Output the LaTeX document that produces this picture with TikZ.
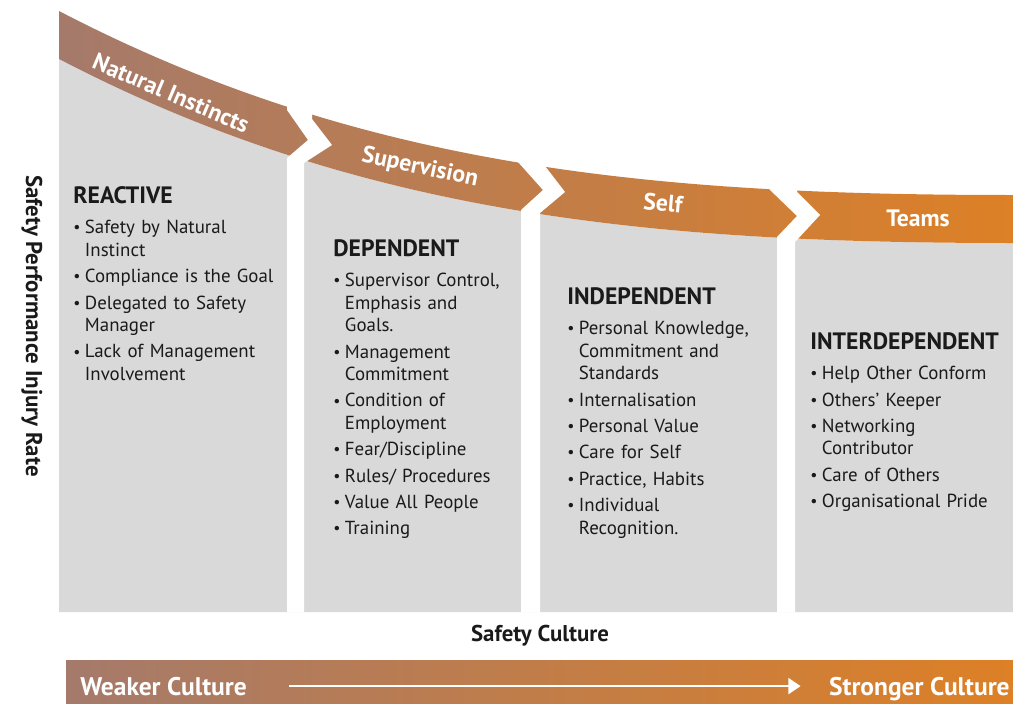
\documentclass[tikz,border=0pt]{standalone}
\usepackage{fontspec}
\setmainfont{PT Sans}
\usetikzlibrary{arrows.meta}

\definecolor{panelgray}{RGB}{217,217,217}
\definecolor{weakbrown}{RGB}{165,122,107}
\definecolor{strongorange}{RGB}{221,128,38}
\definecolor{textdark}{RGB}{26,26,26}

% heading and bullet lines inside the stage panels
\newcommand{\stagehead}[1]{{\bfseries\fontsize{13.5}{15}\selectfont #1}\par\vspace{4.6pt}}
\newcommand{\stageitem}[1]{\par\hangindent=6.6pt\hangafter=1\noindent
	\makebox[6.6pt][l]{\raisebox{0.5pt}{\fontsize{9}{9}\selectfont\textbullet}}#1\par\vspace{2.2pt}}

\tikzset{
	stagetext/.style={anchor=north west, inner sep=0pt, text width=4.6cm, align=left,
		text=textdark, font=\fontsize{10.75}{12.8}\selectfont},
	bandlabel/.style={text=white, font=\bfseries\fontsize{13.5}{15}\selectfont},
	barlabel/.style={text=white, inner sep=0pt, font=\bfseries\fontsize{14.5}{17}\selectfont},
	axislabel/.style={text=textdark, font=\bfseries\fontsize{13}{15}\selectfont},
	culturearrow/.style={draw=white, line width=1.5pt, -{Triangle[width=9pt,length=7pt]}}
}

\begin{document}
\begin{tikzpicture}[x=0.02cm,y=-0.02cm]
	\useasboundingbox (0,0) rectangle (1013,703);
	% grey columns under the curve
	\fill[panelgray] (59,59) .. controls (359,215) and (649,243) .. (1013,243)
		-- (1013,612) -- (59,612) -- cycle;
	% the curved band
	\shade[left color=weakbrown, right color=strongorange]
		(59,11) .. controls (359,167) and (649,195) .. (1013,195)
		-- (1013,243) .. controls (649,243) and (359,215) .. (59,59) -- cycle;
	% chevron gaps between the stages
	\fill[white] (287,0) -- (287,110) -- (308,140) -- (287,158) -- (287,612)
		-- (304,612) -- (304,163) -- (332,145) -- (312,119) -- (312,0) -- cycle;
	\fill[white] (518,0) -- (518,162) -- (543,190) -- (521,210) -- (521,612)
		-- (540,612) -- (540,213) -- (565,192) -- (545,166) -- (545,0) -- cycle;
	\fill[white] (769,0) -- (769,189) -- (797,216) -- (777,237) -- (777,612)
		-- (795,612) -- (795,242) -- (820,215) -- (797,192) -- (797,0) -- cycle;

	\node[bandlabel, rotate=-23] (natural) at (171,93) {Natural Instincts};
	\node[bandlabel, rotate=-12] (supervision) at (420,168) {Supervision};
	\node[bandlabel, rotate=-5] (self) at (663,203) {Self};
	\node[bandlabel] (teams) at (918,218) {Teams};

	\node[stagetext] (reactive) at (73,186) {\stagehead{REACTIVE}
		\stageitem{Safety by Natural\newline Instinct}
		\stageitem{Compliance is the Goal}
		\stageitem{Delegated to Safety\newline Manager}
		\stageitem{Lack of Management\newline Involvement}};
	\node[stagetext] (dependent) at (333,239) {\stagehead{DEPENDENT}
		\stageitem{Supervisor Control,\newline Emphasis and\newline Goals.}
		\stageitem{Management\newline Commitment}
		\stageitem{Condition of\newline Employment}
		\stageitem{Fear/Discipline}
		\stageitem{Rules/ Procedures}
		\stageitem{Value All People}
		\stageitem{Training}};
	\node[stagetext] (independent) at (567,287) {\stagehead{INDEPENDENT}
		\stageitem{Personal Knowledge,\newline Commitment and\newline Standards}
		\stageitem{Internalisation}
		\stageitem{Personal Value}
		\stageitem{Care for Self}
		\stageitem{Practice, Habits}
		\stageitem{Individual\newline Recognition.}};
	\node[stagetext] (interdependent) at (810,332) {\stagehead{INTERDEPENDENT}
		\stageitem{Help Other Conform}
		\stageitem{Others’ Keeper}
		\stageitem{Networking\newline Contributor}
		\stageitem{Care of Others}
		\stageitem{Organisational Pride}};

	\node[axislabel, rotate=-90] (rate) at (32,326) {Safety Performance Injury Rate};
	\node[axislabel] (culture) at (540,636) {Safety Culture};

	% weaker to stronger bar
	\shade[left color=weakbrown, right color=strongorange] (66,660) rectangle (1013,703);
	\node[barlabel, anchor=base west] (weak) at (80,695) {Weaker Culture};
	\node[barlabel, anchor=base east] (strong) at (1010,695) {Stronger Culture};
	\draw[culturearrow, shorten <=24pt, shorten >=16pt] (weak.east) -- (weak.east -| strong.west);
\end{tikzpicture}
\end{document}
